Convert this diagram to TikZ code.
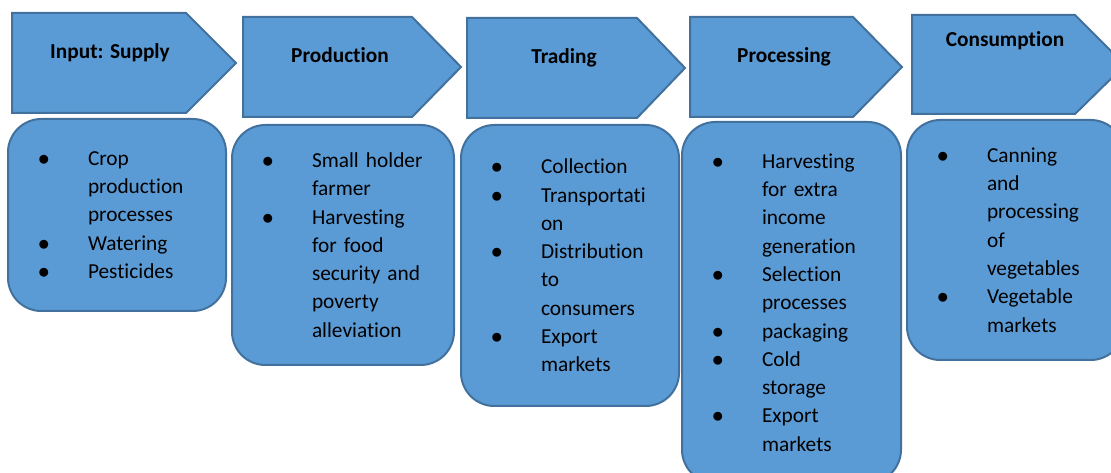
\documentclass[tikz,border=0pt]{standalone}
\usepackage{fontspec}
\setmainfont{Carlito}[Ligatures=CommonOff]
\usepackage{xcolor}
\definecolor{stagefill}{HTML}{5B9BD5}
\definecolor{stageedge}{HTML}{41719C}
\usepackage{tikz}
\newcommand{\itembul}{\makebox[40pt][l]{\makebox[14pt]{$\bullet$}}}
\newcommand{\itemcont}{\makebox[40pt]{}}
\tikzset{
  stagearrow/.style={draw=stageedge, fill=stagefill, line width=1.5pt, line join=miter},
  stagelabel/.style={font=\fontsize{16}{21.2}\selectfont\bfseries, text=black, anchor=base},
  listbox/.style={draw=stageedge, fill=stagefill, line width=1.5pt, rounded corners=25pt,
    align=left, inner xsep=20pt, inner ysep=0pt, font=\fontsize{16}{21.2}\selectfont}
}

\begin{document}
\begin{tikzpicture}[x=0.75pt, y=-0.75pt]
        \clip (0,0) rectangle (1111,473);
        \fill[white] (0,0) rectangle (1111,473);
        % stage arrows
        \draw[stagearrow] (12,13) -- (186,13) -- (236,63) -- (186,113) -- (12,113) -- cycle;
        \draw[stagearrow] (243,17) -- (412,17) -- (461,67) -- (412,117) -- (243,117) -- cycle;
        \draw[stagearrow] (467,18) -- (637,18) -- (685,68) -- (637,118) -- (467,118) -- cycle;
        \draw[stagearrow] (690,17) -- (853,17) -- (902,67) -- (853,117) -- (690,117) -- cycle;
        \draw[stagearrow] (912,15) -- (1075,15) -- (1125,65) -- (1075,114) -- (912,114) -- cycle;
        \node[stagelabel] (supply) at (110,59) {Input: Supply};
        \node[stagelabel] (production) at (340,63) {Production};
        \node[stagelabel] (trading) at (564,64) {Trading};
        \node[stagelabel] (processing) at (784,63) {Processing};
        \node[stagelabel] (consumption) at (1005,47) {Consumption};
        % item boxes
        \node[listbox, text width=123.5pt, minimum height=144pt] (supplylist) at (117,215)
          {\itembul Crop\\ \itemcont production\\ \itemcont processes\\ \itembul Watering\\ \itembul Pesticides};
        \node[listbox, text width=126.5pt, minimum height=180pt] (productionlist) at (343,245)
          {\itembul Small holder\\ \itemcont farmer\\ \itembul Harvesting\\ \itemcont for food\\ \itemcont security and\\ \itemcont poverty\\ \itemcont alleviation};
        \node[listbox, text width=123.5pt, minimum height=210.75pt] (tradinglist) at (570,265.5)
          {\itembul Collection\\ \itembul Transportati\\ \itemcont on\\ \itembul Distribution\\ \itemcont to\\ \itemcont consumers\\ \itembul Export\\ \itemcont markets};
        \node[listbox, text width=124.25pt, minimum height=270.75pt] (processinglist) at (791.5,302.5)
          {\itembul Harvesting\\ \itemcont for extra\\ \itemcont income\\ \itemcont generation\\ \itembul Selection\\ \itemcont processes\\ \itembul packaging\\ \itembul Cold\\ \itemcont storage\\ \itembul Export\\ \itemcont markets};
        \node[listbox, text width=122.75pt, minimum height=180pt] (consumptionlist) at (1015.5,240)
          {\itembul Canning\\ \itemcont and\\ \itemcont processing\\ \itemcont of\\ \itemcont vegetables\\ \itembul Vegetable\\ \itemcont markets};
\end{tikzpicture}
\end{document}
